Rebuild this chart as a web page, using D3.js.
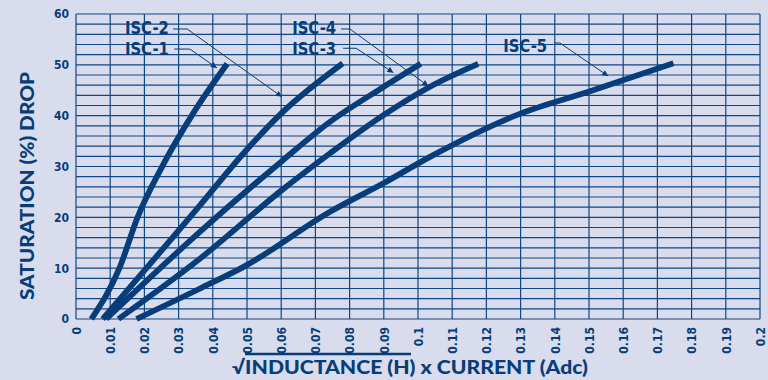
<!DOCTYPE html>
<html><head><meta charset="utf-8">
<script src="https://cdn.jsdelivr.net/npm/d3@7"></script>
<style>html,body{margin:0;padding:0;background:#d9dcec;} svg{display:block}</style>
</head><body>
<svg id="c" width="768" height="380"></svg>
<script>
// ---------- data ----------
const xTickValues = [0,0.01,0.02,0.03,0.04,0.05,0.06,0.07,0.08,0.09,0.1,0.11,0.12,0.13,0.14,0.15,0.16,0.17,0.18,0.19,0.2];
const xTickLabels = ["0","0.01","0.02","0.03","0.04","0.05","0.06","0.07","0.08","0.09","0.1","0.11","0.12","0.13","0.14","0.15","0.16","0.17","0.18","0.19","0.2"];
const yTickValues = [0,10,20,30,40,50,60];
const yTickLabels = ["0","10","20","30","40","50","60"];

const seriesNames = ["ISC-1","ISC-2","ISC-3","ISC-4","ISC-5"];
const isc1X = [0.0045,0.0127,0.018,0.0248,0.0343,0.0442];
const isc1Y = [0,10,20,29.5,40.5,50.2];
const isc2X = [0.0078,0.0363,0.049,0.0601,0.078];
const isc2Y = [0,22.4,32.6,40.5,50.3];
const isc3X = [0.0088,0.0363,0.0601,0.0743,0.0898,0.1008];
const isc3Y = [0,17.2,31.0,38.8,45.6,50.2];
const isc4X = [0.0124,0.0363,0.0601,0.0743,0.0899,0.1035,0.1176];
const isc4Y = [0,11.9,25.3,32.6,40.1,45.7,50.2];
const isc5X = [0.0177,0.0363,0.0494,0.0743,0.0899,0.1035,0.1303,0.1503,0.1747];
const isc5Y = [0,6.0,10.4,21.1,26.7,31.9,40.5,44.8,50.3];
const seriesX = [isc1X,isc2X,isc3X,isc4X,isc5X];
const seriesY = [isc1Y,isc2Y,isc3Y,isc4Y,isc5Y];

// label anchor (data units) and leader polyline (data units)
const labelX = [0.0143,0.0143,0.0632,0.0632,0.1249];
const labelY = [51.9,56.1,51.9,56.1,52.5];
const leaderX = [[0.0287,0.0333,0.0412],[0.0284,0.0325,0.0602],[0.0781,0.0819,0.0928],[0.0775,0.0801,0.1030],[0.1398,0.1415,0.1556]];
const leaderY = [[53.1,53.1,49.4],[57.05,57.05,43.7],[53.26,53.26,48.46],[57.05,57.05,45.84],[54.3,54.3,47.8]];

// ---------- drawing ----------
const navy = "#063d7a";
const gridC = "#0f4686";
const svg = d3.select("#c");
const M = {l:76, r:760, t:14, b:319};
const x = d3.scaleLinear().domain([0,0.2]).range([M.l, M.r]);
const y = d3.scaleLinear().domain([0,60]).range([M.b, M.t]);

const condensed = "'Liberation Sans Narrow','DejaVu Sans Condensed','Roboto Condensed',sans-serif";
const wide = "Lato,'DejaVu Sans',sans-serif";

// grid
const g = svg.append("g");
g.selectAll("line.h").data(d3.range(0,61,2)).join("line")
  .attr("x1", M.l).attr("x2", M.r).attr("y1", d=>y(d)).attr("y2", d=>y(d))
  .attr("stroke", gridC).attr("stroke-width", 1.2);
g.selectAll("line.v").data(xTickValues).join("line")
  .attr("y1", M.t).attr("y2", M.b).attr("x1", d=>x(d)).attr("x2", d=>x(d))
  .attr("stroke", gridC).attr("stroke-width", 1.2);

// axes (labels only)
const yAxis = d3.axisLeft(y).tickValues(yTickValues).tickFormat((d,i)=>yTickLabels[i]).tickSize(0).tickPadding(7);
const ya = svg.append("g").attr("transform",`translate(${M.l},0)`).call(yAxis);
ya.select(".domain").remove();
ya.selectAll("text").attr("font-family", condensed).attr("font-weight","bold").attr("font-size",12).attr("fill",navy);

const xAxis = d3.axisBottom(x).tickValues(xTickValues).tickFormat((d,i)=>xTickLabels[i]).tickSize(0);
const xa = svg.append("g").attr("transform",`translate(0,${M.b})`).call(xAxis);
xa.select(".domain").remove();
xa.selectAll("text")
  .attr("font-family", condensed).attr("font-weight","bold").attr("font-size",12).attr("fill",navy)
  .attr("text-anchor","end").attr("transform","translate(0,8) rotate(-90)")
  .attr("x",0).attr("y",0).attr("dy","0.35em");

// curves
const line = d3.line().x(d=>x(d[0])).y(d=>y(d[1])).curve(d3.curveMonotoneX);
seriesNames.forEach((n,i)=>{
  const pts = seriesX[i].map((v,j)=>[v, seriesY[i][j]]);
  svg.append("path").datum(pts).attr("d", line)
    .attr("fill","none").attr("stroke", navy).attr("stroke-width",5.8)
    .attr("stroke-linecap","butt").attr("stroke-linejoin","round");
});

// arrows
svg.append("defs").append("marker").attr("id","arr")
  .attr("viewBox","0 0 10 10").attr("refX",10).attr("refY",5)
  .attr("markerWidth",9).attr("markerHeight",6).attr("markerUnits","userSpaceOnUse")
  .attr("orient","auto")
  .append("path").attr("d","M0,0L10,5L0,10z").attr("fill",navy);

seriesNames.forEach((n,i)=>{
  svg.append("text").attr("x", x(labelX[i])).attr("y", y(labelY[i]))
    .attr("font-family", condensed).attr("font-weight","bold").attr("font-size",17)
    .attr("textLength",44).attr("lengthAdjust","spacingAndGlyphs")
    .attr("fill", navy).text(n);
  const pts = leaderX[i].map((v,j)=>[x(v), y(leaderY[i][j])]);
  svg.append("path").attr("d", d3.line()(pts)).attr("fill","none")
    .attr("stroke", navy).attr("stroke-width",1).attr("marker-end","url(#arr)");
});

// y title
svg.append("text").attr("transform",`translate(34,186) rotate(-90)`)
  .attr("text-anchor","middle").attr("font-family", wide).attr("font-weight","900")
  .attr("font-size",18).attr("fill",navy)
  .attr("textLength",228).attr("lengthAdjust","spacingAndGlyphs")
  .text("SATURATION (%) DROP");

// x title
const xt = svg.append("text").attr("x",232).attr("y",374)
  .attr("font-family", wide).attr("font-weight","900").attr("font-size",19).attr("fill",navy)
  .attr("textLength",356).attr("lengthAdjust","spacingAndGlyphs")
  .text("\u221AINDUCTANCE (H) x CURRENT (Adc)");
svg.append("line").attr("x1", 245).attr("x2", 411).attr("y1",354).attr("y2",354)
  .attr("stroke", navy).attr("stroke-width",2.5);
</script>
</body></html>
